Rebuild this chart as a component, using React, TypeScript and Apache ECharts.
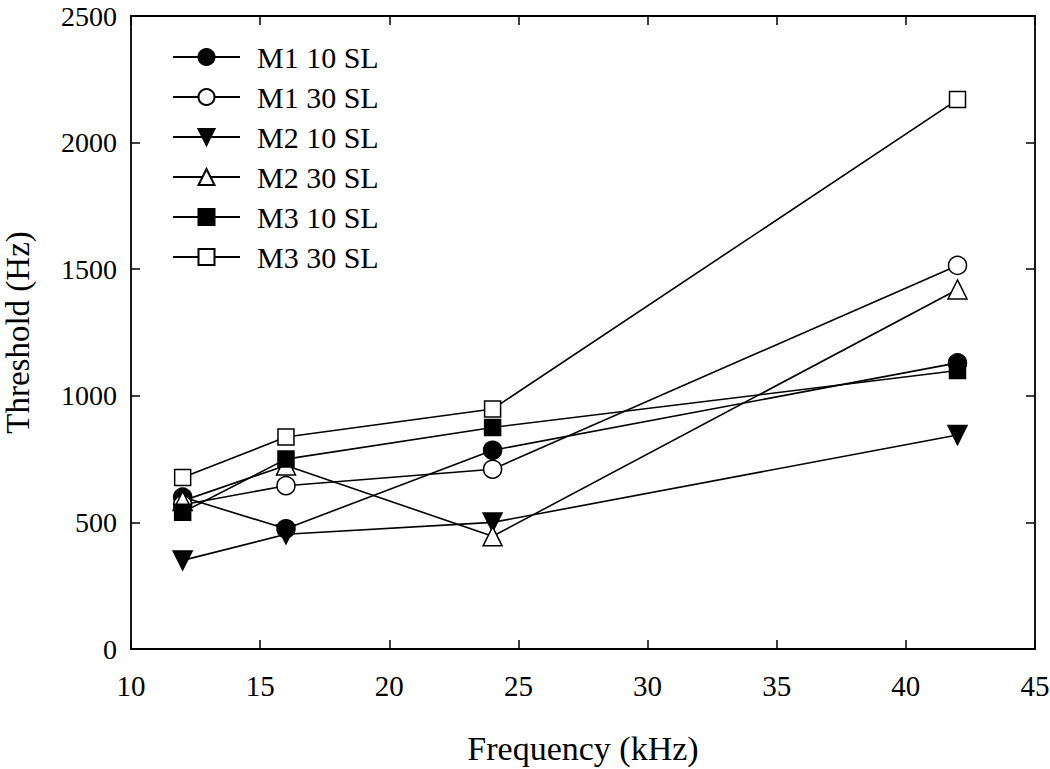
import React, { useEffect, useRef } from "react";
import * as echarts from "echarts";

const frequencies = [12, 16, 24, 42];
const seriesNames = ["M1 10 SL", "M1 30 SL", "M2 10 SL", "M2 30 SL", "M3 10 SL", "M3 30 SL"];
const m1_10 = [600, 475, 785, 1130];
const m1_30 = [570, 645, 710, 1515];
const m2_10 = [350, 453, 500, 845];
const m2_30 = [585, 725, 445, 1420];
const m3_10 = [540, 750, 875, 1100];
const m3_30 = [677, 837, 948, 2170];
const xTicks = [10, 15, 20, 25, 30, 35, 40, 45];
const yTicks = [0, 500, 1000, 1500, 2000, 2500];

const values = [m1_10, m1_30, m2_10, m2_30, m3_10, m3_30];
const symbols = ["circle", "circle", "triangle", "triangle", "rect", "rect"];
const rotations = [0, 0, 180, 0, 0, 0];
const filled = [true, false, true, false, true, false];
const sizes = [18, 18, 19, 19, 16, 16];

const FONT = "Liberation Serif";

export default function App() {
  const ref = useRef<HTMLDivElement>(null);
  useEffect(() => {
    if (!ref.current) return;
    const chart = echarts.init(ref.current, undefined, { renderer: "svg" });
    const axisCommon = {
      type: "value" as const,
      axisLine: { show: true, onZero: false, lineStyle: { color: "#000", width: 1.8 } },
      axisTick: { show: true, inside: true, length: 9, lineStyle: { color: "#000", width: 1.5 } },
      splitLine: { show: false },
    };
    const plain = (v: number) => String(v);
    chart.setOption({
      animation: false,
      backgroundColor: "#fff",
      grid: { left: 131, right: 15, top: 16, bottom: 120, containLabel: false, outerBoundsMode: "none" },
      legend: {
        orient: "vertical",
        left: 167,
        top: 37,
        itemWidth: 67,
        itemHeight: 20,
        itemGap: 10,
        textStyle: { fontFamily: FONT, fontSize: 30, color: "#000", padding: [0, 0, 0, 12] },
        data: seriesNames,
      },
      xAxis: [
        {
          ...axisCommon,
          min: xTicks[0],
          max: xTicks[xTicks.length - 1],
          interval: 5,
          name: "Frequency (kHz)",
          nameLocation: "middle",
          nameGap: 82,
          nameTextStyle: { fontFamily: FONT, fontSize: 34, color: "#000" },
          axisLabel: { fontFamily: FONT, fontSize: 29, color: "#000", margin: 22, formatter: plain },
        },
        {
          ...axisCommon,
          position: "top",
          min: xTicks[0],
          max: xTicks[xTicks.length - 1],
          interval: 5,
          axisLabel: { show: false },
        },
      ],
      yAxis: [
        {
          ...axisCommon,
          min: yTicks[0],
          max: yTicks[yTicks.length - 1],
          interval: 500,
          name: "Threshold (Hz)",
          nameLocation: "middle",
          nameGap: 97,
          nameTextStyle: { fontFamily: FONT, fontSize: 33, color: "#000" },
          axisLabel: { fontFamily: FONT, fontSize: 28, color: "#000", margin: 14, formatter: plain },
        },
        {
          ...axisCommon,
          position: "right",
          min: yTicks[0],
          max: yTicks[yTicks.length - 1],
          interval: 500,
          axisLabel: { show: false },
        },
      ],
      series: seriesNames.map((name, i) => ({
        name,
        type: "line",
        data: frequencies.map((f, j) => [f, values[i][j]]),
        symbol: symbols[i],
        symbolSize: sizes[i],
        symbolRotate: rotations[i],
        showAllSymbol: true,
        lineStyle: { color: "#000", width: 1.6 },
        itemStyle: {
          color: filled[i] ? "#000" : "#fff",
          borderColor: "#000",
          borderWidth: 1.5,
          opacity: 1,
        },
        emphasis: { disabled: true },
      })),
    });
    return () => chart.dispose();
  }, []);
  return <div ref={ref} style={{ width: 1050, height: 769, position: "absolute", left: 0, top: 0 }} />;
}
